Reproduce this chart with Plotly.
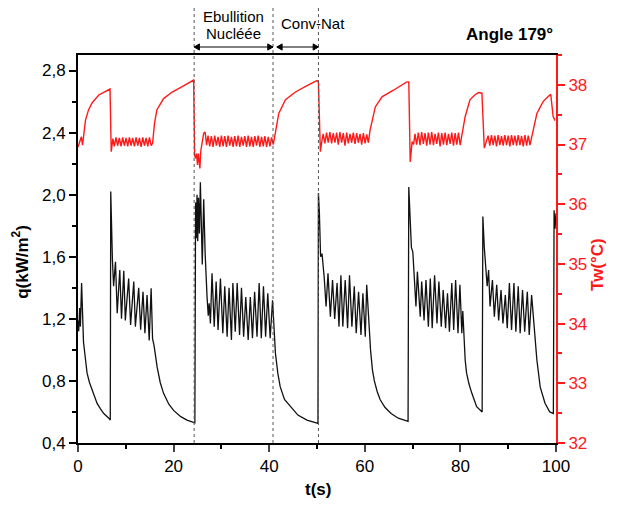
import plotly.graph_objects as go

# ---------------- data ----------------
# heat flux q (kW/m2), black curve
q_t = [0, 0.15, 0.35, 0.5, 0.75, 0.95, 1.15, 1.6, 1.9, 2.4, 2.97, 3.5, 4.0, 4.7, 5.4, 6.45, 6.75,
       6.85, 7.0, 7.2, 7.45, 7.84, 8.2, 8.74, 9.1, 9.58, 9.9, 10.6, 11.0, 11.67, 12.0, 12.7, 13.1,
       13.6, 14.0, 14.45, 14.9, 15.3, 15.6, 15.9, 16.55, 17.2, 17.9, 19.0, 20.0, 21.5, 22.8, 24.45,
       24.6, 24.75, 24.9, 25.05, 25.2, 25.4, 25.6, 25.8, 26.0, 26.3, 26.6, 27.0, 27.25, 27.45, 27.7,
       28.04, 28.5, 28.9, 29.3, 29.8, 30.3, 30.7, 31.2, 31.6, 32.1, 32.4, 32.9, 33.3, 33.8, 34.2,
       34.65, 35.1, 35.6, 36.05, 36.5, 36.95, 37.45, 37.9, 38.35, 38.8, 39.25, 39.7, 40.2, 40.7,
       40.95, 41.3, 41.8, 42.3, 43.2, 44.4, 46.0, 47.9, 50.2,
       50.3, 50.5, 50.75, 51.05, 51.5, 51.9, 52.3, 52.8, 53.25, 53.7, 54.2, 54.6, 55.0, 55.4, 55.9,
       56.4, 56.8, 57.3, 57.8, 58.2, 58.7, 59.2, 59.6, 60.1, 60.4, 60.8, 61.2, 61.6, 62.0, 62.6,
       63.2, 64.2, 65.5, 67.0, 69.05,
       69.2, 69.45, 69.75, 70.05, 70.4, 70.7, 71.0, 71.6, 71.9, 72.4, 72.8, 73.3, 73.7, 74.1, 74.6,
       75.1, 75.5, 76.0, 76.4, 76.9, 77.3, 77.7, 78.2, 78.6, 79.0, 79.5, 79.9, 80.3, 80.5, 81.0,
       81.3, 81.8, 82.4, 83.4, 84.55,
       84.7, 85.0, 85.3, 85.6, 85.9, 86.2, 86.7, 87.1, 87.6, 88.0, 88.5, 88.9, 89.4, 89.8, 90.25,
       90.7, 91.2, 91.6, 92.1, 92.5, 93.0, 93.45, 94.0, 94.4, 94.9, 95.3, 96.0, 96.7, 97.7, 98.7,
       99.45, 99.6, 99.8, 100]
q_val = [1.19, 1.12, 1.27, 1.15, 1.43, 1.22, 1.05, 0.93, 0.85, 0.79, 0.74, 0.69, 0.655, 0.62, 0.59, 0.56, 0.548,
         2.02, 1.79, 1.58, 1.41, 1.568, 1.236, 1.515, 1.20, 1.51, 1.19, 1.46, 1.16, 1.44, 1.15, 1.40, 1.13,
         1.375, 1.107, 1.353, 1.06, 1.397, 1.07, 1.03, 0.89, 0.79, 0.72, 0.65, 0.61, 0.57, 0.548, 0.53,
         1.95, 1.72, 2.0, 1.7, 1.98, 1.75, 2.08, 1.74, 1.55, 1.97, 1.62, 1.34, 1.22, 1.30, 1.17,
         1.493, 1.15, 1.44, 1.128, 1.46, 1.107, 1.41, 1.085, 1.40, 1.064, 1.43, 1.117, 1.43, 1.096, 1.40,
         1.085, 1.34, 1.064, 1.34, 1.075, 1.375, 1.085, 1.43, 1.075, 1.41, 1.085, 1.365, 1.075, 1.32,
         1.2, 0.98, 0.85, 0.763, 0.68, 0.634, 0.58, 0.548, 0.527,
         2.01, 1.88, 1.60, 1.62, 1.47, 1.28, 1.493, 1.214, 1.45, 1.20, 1.43, 1.15, 1.48, 1.15, 1.45,
         1.14, 1.48, 1.15, 1.41, 1.107, 1.375, 1.096, 1.365, 1.085, 1.42, 1.2, 1.0, 0.87, 0.80, 0.73,
         0.68, 0.63, 0.59, 0.56, 0.54,
         2.05, 1.84, 1.66, 1.63, 1.45, 1.28, 1.504, 1.214, 1.44, 1.19, 1.45, 1.15, 1.46, 1.14, 1.48,
         1.17, 1.44, 1.15, 1.386, 1.14, 1.365, 1.117, 1.43, 1.128, 1.45, 1.107, 1.42, 1.107, 1.25, 0.935,
         0.85, 0.78, 0.72, 0.634, 0.60,
         1.86, 1.66, 1.51, 1.41, 1.515, 1.28, 1.45, 1.214, 1.42, 1.19, 1.386, 1.17, 1.353, 1.14, 1.43,
         1.128, 1.43, 1.117, 1.41, 1.107, 1.386, 1.117, 1.375, 1.096, 1.353, 1.2, 0.935, 0.76, 0.656, 0.60,
         0.59, 1.9, 1.78, 1.88]

# wall temperature Tw (deg C), red curve
tw_t = [0, 0.7, 0.95, 1.3, 1.57, 2.2, 2.97, 4.35, 6.1, 6.7, 6.95,
        7.3, 7.6, 7.95, 8.3, 8.65, 9.0, 9.35, 9.7, 10.05, 10.4, 10.75, 11.1, 11.45, 11.8, 12.15,
        12.5, 12.85, 13.2, 13.55, 13.9, 14.25, 14.6, 14.95, 15.3, 15.6, 16.0, 16.5, 17.9, 19.7,
        21.8, 24.2,
        24.4, 24.6, 24.8, 25.0, 25.2, 25.5, 25.7, 26.0, 26.3, 26.6, 26.9, 27.2, 27.55, 27.9, 28.25,
        28.6, 28.95, 29.3, 29.65, 30.0, 30.35, 30.7, 31.05, 31.4, 31.75, 32.1, 32.45, 32.8, 33.15,
        33.5, 33.85, 34.2, 34.55, 34.9, 35.25, 35.6, 35.95, 36.3, 36.65, 37.0, 37.35, 37.7, 38.05,
        38.4, 38.75, 39.1, 39.45, 39.8, 40.15, 40.5, 40.85, 41.3, 42.0, 43.4, 45.5, 48.2, 50.0, 50.3,
        50.7, 51.0, 51.3, 51.65, 52.0, 52.35, 52.7, 53.05, 53.4, 53.75, 54.1, 54.45, 54.8, 55.15,
        55.5, 55.85, 56.2, 56.55, 56.9, 57.25, 57.6, 57.95, 58.3, 58.65, 59.0, 59.35, 59.7, 60.05,
        60.4, 60.75, 61.1, 62.2, 63.6, 66.0, 68.8, 69.2,
        69.5, 69.9, 70.2, 70.5, 70.85, 71.2, 71.55, 71.9, 72.25, 72.6, 72.95, 73.3, 73.65, 74.0,
        74.35, 74.7, 75.05, 75.4, 75.75, 76.1, 76.45, 76.8, 77.15, 77.5, 77.85, 78.2, 78.55, 78.9,
        79.25, 79.6, 79.95, 80.3, 81.0, 82.0, 83.0, 83.8, 84.5,
        85.0, 85.5, 85.8, 86.15, 86.5, 86.85, 87.2, 87.55, 87.9, 88.25, 88.6, 88.95, 89.3, 89.65,
        90.0, 90.35, 90.7, 91.05, 91.4, 91.75, 92.1, 92.45, 92.8, 93.15, 93.5, 93.85, 94.2, 94.55,
        94.9, 95.4, 96.0, 97.3, 98.3, 98.9, 99.4, 99.8]
tw_val = [36.96, 37.13, 36.99, 37.2, 37.41, 37.58, 37.70, 37.83, 37.91, 37.93, 36.88,
          37.10, 36.97, 37.12, 36.98, 37.11, 36.97, 37.12, 36.98, 37.11, 36.97, 37.12, 36.98, 37.11, 36.97, 37.12,
          36.98, 37.11, 36.96, 37.12, 36.98, 37.11, 36.97, 37.12, 36.98, 37.02, 37.35, 37.58, 37.77, 37.88,
          37.97, 38.08,
          36.82, 36.77, 36.85, 36.66, 36.85, 36.60, 36.90, 37.05, 37.19, 37.21, 36.99, 37.15, 36.97, 37.14, 36.96,
          37.15, 36.98, 37.13, 36.96, 37.15, 36.97, 37.14, 36.96, 37.15, 36.98, 37.13, 36.96, 37.14, 36.97,
          37.15, 36.96, 37.13, 36.98, 37.14, 36.96, 37.15, 36.97, 37.13, 36.96, 37.14, 36.98, 37.15, 36.96,
          37.13, 36.97, 37.14, 36.96, 37.13, 36.97, 37.12, 37.0, 37.2, 37.52, 37.75, 37.88, 38.0, 38.07, 38.05,
          36.88, 37.05, 37.18, 37.02, 37.2, 37.03, 37.21, 37.02, 37.19, 37.03, 37.2, 37.0, 37.21, 37.03,
          37.19, 36.98, 37.2, 37.02, 37.18, 37.03, 37.2, 37.01, 37.19, 37.03, 37.18, 37.0, 37.19, 37.02,
          37.17, 37.03, 37.24, 37.63, 37.80, 37.91, 38.05, 38.05,
          36.71, 37.05, 37.0, 37.18, 37.0, 37.2, 36.99, 37.21, 37.01, 37.19, 36.98, 37.2, 37.0, 37.21,
          36.99, 37.18, 37.01, 37.2, 36.97, 37.19, 37.0, 37.2, 36.99, 37.18, 37.01, 37.2, 36.98, 37.19,
          37.0, 37.2, 36.99, 37.15, 37.47, 37.75, 37.83, 37.87, 37.86,
          36.94, 37.05, 37.15, 36.98, 37.16, 36.99, 37.15, 36.97, 37.16, 36.99, 37.14, 36.98, 37.16, 36.99,
          37.15, 36.97, 37.16, 36.99, 37.15, 36.98, 37.16, 36.99, 37.14, 36.97, 37.16, 36.98, 37.15, 36.99,
          37.1, 37.3, 37.52, 37.72, 37.8, 37.84, 37.47, 37.4]

phase_marks = [24.3, 40.8, 50.3]          # dotted vertical lines (s)
phase_spans = [(24.3, 40.8), (41.6, 50.3)]  # double-headed arrows (s)
x_ticks = [0, 20, 40, 60, 80, 100]
q_ticks = [0.4, 0.8, 1.2, 1.6, 2.0, 2.4, 2.8]
q_tick_text = ["0,4", "0,8", "1,2", "1,6", "2,0", "2,4", "2,8"]
tw_ticks = [32, 33, 34, 35, 36, 37, 38]

FONT = "Arial, Liberation Sans, sans-serif"
RED = "#ff1a1a"

fig = go.Figure()
fig.add_trace(go.Scatter(x=tw_t, y=tw_val, mode="lines", yaxis="y",
                         line=dict(color=RED, width=1.4), showlegend=False))
fig.add_trace(go.Scatter(x=q_t, y=q_val, mode="lines", yaxis="y2",
                         line=dict(color="#111111", width=1.3), showlegend=False))

shapes = []
for m in phase_marks:
    shapes.append(dict(type="line", xref="x", yref="paper", x0=m, x1=m, y0=0, y1=1.15,
                       line=dict(color="#555555", width=1, dash="dot")))

# double-headed arrows (line + two small filled heads)
ARROW_Y = 1.0206
HEAD_DX = 1.1      # in seconds (~5 px)
HEAD_DY = 0.008    # in paper units (~3 px)
for a, b in phase_spans:
    shapes.append(dict(type="line", xref="x", yref="paper", x0=a, x1=b, y0=ARROW_Y, y1=ARROW_Y,
                       line=dict(color="black", width=1)))
    shapes.append(dict(type="path", xref="x", yref="paper",
                       path=f"M {a} {ARROW_Y} L {a + HEAD_DX} {ARROW_Y + HEAD_DY} "
                            f"L {a + HEAD_DX} {ARROW_Y - HEAD_DY} Z",
                       fillcolor="black", line=dict(color="black", width=1)))
    shapes.append(dict(type="path", xref="x", yref="paper",
                       path=f"M {b} {ARROW_Y} L {b - HEAD_DX} {ARROW_Y + HEAD_DY} "
                            f"L {b - HEAD_DX} {ARROW_Y - HEAD_DY} Z",
                       fillcolor="black", line=dict(color="black", width=1)))


def label(text, x, y, size, color="black", angle=0, xref="paper", xanchor="center"):
    return dict(text=text, xref=xref, yref="paper", x=x, y=y, textangle=angle,
                xanchor=xanchor, yanchor="middle", showarrow=False,
                font=dict(family=FONT, size=size, color=color))


annotations = [
    label("<b>q(kW/m<sup>2</sup>)</b>", -0.12, 0.466, 17, angle=-90),
    label("<b>Tw(°C)</b>", 1.088, 0.459, 17, color=RED, angle=-90),
    label("<b>t(s)</b>", 0.503, -0.121, 17),
    label("<b>Angle 179°</b>", 0.998, 1.052, 17, xanchor="right"),
    label("Ebullition", 32.5, 1.098, 15, xref="x"),
    label("Nucléée", 32.5, 1.056, 15, xref="x"),
    label("Conv-Nat", 49.2, 1.080, 15, xref="x"),
]

fig.update_layout(
    width=615, height=498,
    margin=dict(l=70, r=67, t=47, b=63),
    paper_bgcolor="white", plot_bgcolor="white",
    font=dict(family=FONT, size=17, color="black"),
    xaxis=dict(range=[0, 100], tickvals=x_ticks, ticks="outside", ticklen=7, tickwidth=1.5,
               showline=True, linecolor="black", linewidth=2, mirror=True, showgrid=False,
               zeroline=False, tickfont=dict(size=17),
               minor=dict(ticks="outside", ticklen=4, dtick=10, tick0=0, tickcolor="black")),
    yaxis=dict(range=[32, 38.5], tickvals=tw_ticks, side="right", ticks="outside", ticklen=7,
               tickwidth=1.5, tickcolor=RED, showline=True, linecolor=RED, linewidth=2,
               showgrid=False, zeroline=False, tickfont=dict(size=17, color=RED),
               minor=dict(ticks="outside", ticklen=4, dtick=0.5, tick0=32, tickcolor=RED)),
    yaxis2=dict(range=[0.4, 2.9], tickvals=q_ticks, ticktext=q_tick_text, side="left",
                overlaying="y", ticks="outside", ticklen=7, tickwidth=1.5, tickcolor="black",
                showline=True, linecolor="black", linewidth=2, showgrid=False, zeroline=False,
                tickfont=dict(size=17),
                minor=dict(ticks="outside", ticklen=4, dtick=0.2, tick0=0.4, tickcolor="black")),
    shapes=shapes,
    annotations=annotations,
)

fig.write_html("out.html")
